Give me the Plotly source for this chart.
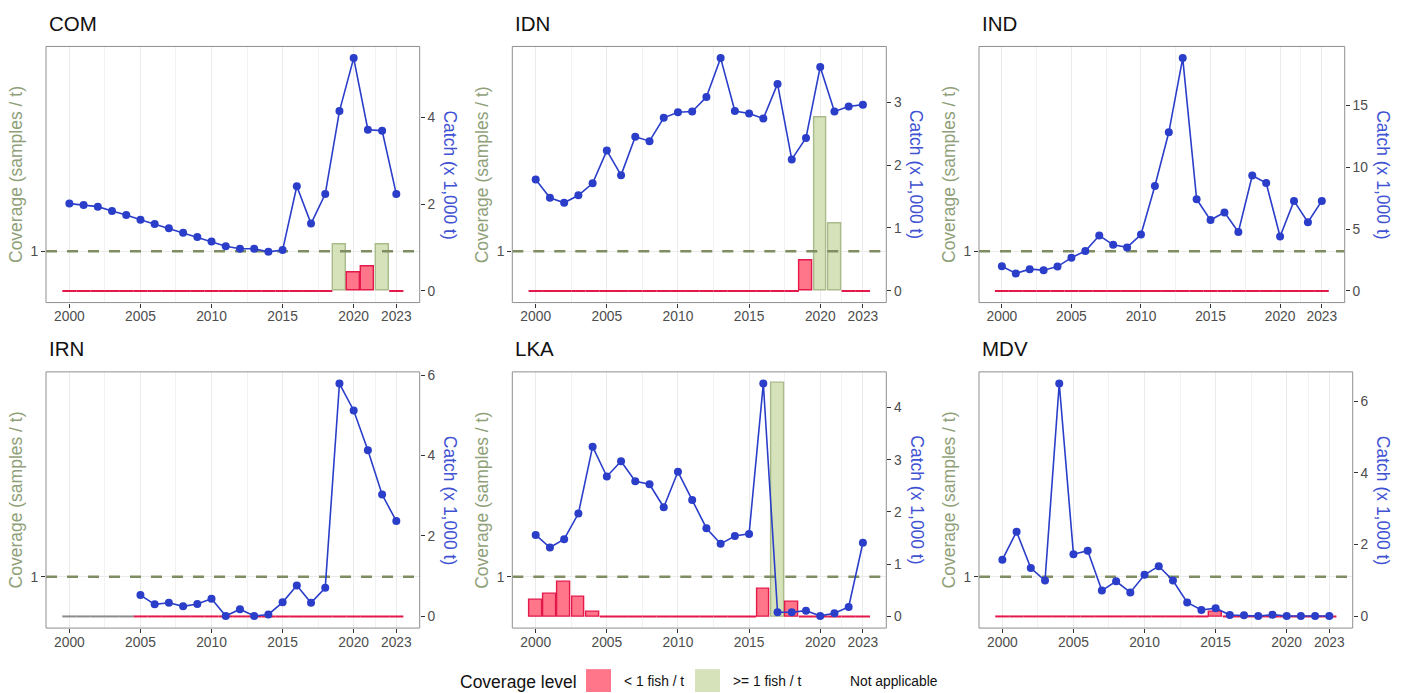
import plotly.graph_objects as go

# ---------------- data ----------------
years = [2000, 2001, 2002, 2003, 2004, 2005, 2006, 2007, 2008, 2009, 2010, 2011,
         2012, 2013, 2014, 2015, 2016, 2017, 2018, 2019, 2020, 2021, 2022, 2023]

fleets = ["COM", "IDN", "IND", "IRN", "LKA", "MDV"]

catch_COM = [2.01, 1.98, 1.94, 1.84, 1.75, 1.64, 1.54, 1.44, 1.34, 1.24, 1.14, 1.03,
             0.97, 0.97, 0.90, 0.94, 2.41, 1.55, 2.23, 4.14, 5.36, 3.71, 3.69, 2.23]
cover_COM = [0, 0, 0, 0, 0, 0, 0, 0, 0, 0, 0, 0,
             0, 0, 0, 0, 0, 0, 0, 1.17, 0.46, 0.61, 1.17, 0]

catch_IDN = [1.77, 1.48, 1.40, 1.52, 1.71, 2.23, 1.84, 2.45, 2.38, 2.75, 2.84, 2.85,
             3.08, 3.70, 2.86, 2.82, 2.74, 3.29, 2.09, 2.43, 3.56, 2.85, 2.93, 2.96]
cover_IDN = [0, 0, 0, 0, 0, 0, 0, 0, 0, 0, 0, 0,
             0, 0, 0, 0, 0, 0, 0, 0.78, 4.38, 1.70, 0, 0]

catch_IND = [2.00, 1.41, 1.76, 1.68, 1.97, 2.69, 3.23, 4.48, 3.73, 3.52, 4.56, 8.48,
             12.83, 18.83, 7.41, 5.73, 6.35, 4.77, 9.33, 8.72, 4.40, 7.28, 5.55, 7.28]
cover_IND = [0, 0, 0, 0, 0, 0, 0, 0, 0, 0, 0, 0,
             0, 0, 0, 0, 0, 0, 0, 0, 0, 0, 0, 0]

catch_IRN = [None, None, None, None, None, 0.53, 0.30, 0.34, 0.25, 0.31, 0.44, 0.01,
             0.18, 0.01, 0.05, 0.35, 0.77, 0.34, 0.71, 5.79, 5.12, 4.13, 3.03, 2.37]
cover_IRN = [None, None, None, None, None, 0, 0, 0, 0, 0, 0, 0,
             0, 0, 0, 0, 0, 0, 0, 0, 0, 0, 0, 0]

catch_LKA = [1.56, 1.32, 1.48, 1.97, 3.25, 2.68, 2.97, 2.59, 2.53, 2.09, 2.77, 2.23,
             1.69, 1.39, 1.54, 1.58, 4.46, 0.08, 0.08, 0.11, 0.01, 0.06, 0.18, 1.41]
cover_LKA = [0.42, 0.57, 0.88, 0.50, 0.11, 0, 0, 0, 0, 0, 0, 0,
             0, 0, 0, 0, 0.69, 5.88, 0.37, 0, 0, 0, 0, 0]

catch_MDV = [1.58, 2.36, 1.35, 1.00, 6.49, 1.73, 1.83, 0.72, 0.98, 0.67, 1.16, 1.40,
             1.00, 0.39, 0.18, 0.23, 0.04, 0.03, 0.01, 0.05, 0.01, 0.01, 0.01, 0.01]
cover_MDV = [0, 0, 0, 0, 0, 0, 0, 0, 0, 0, 0, 0,
             0, 0, 0, 0.11, 0, 0, 0, 0, 0, 0, 0, 0]

catch_ticks_COM = [0, 2, 4]
catch_ticks_IDN = [0, 1, 2, 3]
catch_ticks_IND = [0, 5, 10, 15]
catch_ticks_IRN = [0, 2, 4, 6]
catch_ticks_LKA = [0, 1, 2, 3, 4]
catch_ticks_MDV = [0, 2, 4, 6]

year_ticks = [2000, 2005, 2010, 2015, 2020, 2023]
year_minor = [2002.5, 2007.5, 2012.5, 2017.5, 2021.5]
coverage_threshold = 1

legend_title = "Coverage level"
legend_labels = ["< 1 fish / t", ">= 1 fish / t", "Not applicable"]

catches = [catch_COM, catch_IDN, catch_IND, catch_IRN, catch_LKA, catch_MDV]
covers = [cover_COM, cover_IDN, cover_IND, cover_IRN, cover_LKA, cover_MDV]
catch_ticks = [catch_ticks_COM, catch_ticks_IDN, catch_ticks_IND,
               catch_ticks_IRN, catch_ticks_LKA, catch_ticks_MDV]

# ---------------- style ----------------
W, H = 1410, 693
FONT = "Liberation Sans, Arial, sans-serif"
RED_FILL, RED_LINE = "#ff7589", "#e3194b"
GRN_FILL, GRN_LINE = "#d5e2ba", "#a9bb8a"
NA_LINE = "#8c8c8c"
BLUE = "#2a3ec9"
BLUE_TITLE = "#3f52d3"
OLIVE = "#7f8e62"
OLIVE_TITLE = "#8fa079"
GRID = "#ebebeb"
TICK_COL = "#4d4d4d"
BAR_W = 0.9
SCALE_MAX = 5.875   # catch maximum is drawn at this height (coverage units)

# panel boxes in pixels: left, top, right, bottom
boxes = [(46, 42.7, 419.7, 300.3), (512.3, 42.7, 886.3, 300.3), (979, 42.7, 1344.7, 300.3),
         (46, 370, 419.7, 627.7), (512.3, 370, 886.3, 627.7), (979, 370, 1352.7, 627.7)]

def px(x):
    return x / W

def py(y):
    return 1 - y / H

x_lo = years[0] - BAR_W / 2
x_hi = years[-1] + BAR_W / 2
x_pad = 0.05 * (x_hi - x_lo)
x_range = [x_lo - x_pad, x_hi + x_pad]
y_range = [-0.05 * SCALE_MAX, 1.05 * SCALE_MAX]

fig = go.Figure()
annotations = []
shapes = []

for i, code in enumerate(fleets):
    n = i + 1
    yl, yr = 2 * i + 1, 2 * i + 2
    xname = "x" if n == 1 else f"x{n}"
    ylname = "y" if yl == 1 else f"y{yl}"
    yrname = f"y{yr}"
    catch = catches[i]
    cover = covers[i]

    # bars with positive coverage
    bx, by, bf, bl = [], [], [], []
    for yv, c in zip(years, cover):
        if c is not None and c > 0:
            bx.append(yv)
            by.append(c)
            bf.append(GRN_FILL if c >= coverage_threshold else RED_FILL)
            bl.append(GRN_LINE if c >= coverage_threshold else RED_LINE)
    fig.add_trace(go.Bar(x=bx, y=by, width=BAR_W, xaxis=xname, yaxis=ylname,
                         marker=dict(color=bf, line=dict(color=bl, width=1.4)),
                         showlegend=False, hoverinfo="skip"))

    # zero-height bars (drawn as their outline)
    for col, test in ((RED_LINE, lambda c: c == 0), (NA_LINE, lambda c: c is None)):
        zx, zy = [], []
        for yv, c in zip(years, cover):
            if test(c):
                zx += [yv - 0.5, yv + 0.5, None]
                zy += [0, 0, None]
        if zx:
            fig.add_trace(go.Scatter(x=zx, y=zy, mode="lines", xaxis=xname, yaxis=ylname,
                                     line=dict(color=col, width=2), showlegend=False,
                                     hoverinfo="skip"))

    # threshold line
    fig.add_trace(go.Scatter(x=x_range, y=[coverage_threshold, coverage_threshold],
                             mode="lines", xaxis=xname, yaxis=ylname,
                             line=dict(color=OLIVE, width=2.6, dash="11px,10px"),
                             showlegend=False, hoverinfo="skip"))

    # catch line
    fig.add_trace(go.Scatter(x=years, y=catch, mode="lines+markers", xaxis=xname, yaxis=yrname,
                             line=dict(color=BLUE, width=1.6),
                             marker=dict(color=BLUE, size=8),
                             showlegend=False, connectgaps=False))

    cmax = max(v for v in catch if v is not None)
    r_range = [v * cmax / SCALE_MAX for v in y_range]

    L, T, R, B = boxes[i]
    xdom = [px(L), px(R)]
    ydom = [py(B), py(T)]
    xkey = "xaxis" if n == 1 else f"xaxis{n}"
    ylkey = "yaxis" if yl == 1 else f"yaxis{yl}"
    yrkey = f"yaxis{yr}"
    fig.layout[xkey] = dict(domain=xdom, anchor=ylname, range=x_range,
                            tickmode="array", tickvals=year_ticks,
                            ticks="outside", ticklen=4, tickcolor="#333", tickwidth=1,
                            ticklabelstandoff=-3,
                            tickfont=dict(size=13.8, color=TICK_COL, family=FONT),
                            showgrid=True, gridcolor=GRID, gridwidth=1,
                            minor=dict(tickmode="array", tickvals=year_minor, showgrid=True,
                                       gridcolor="#f2f2f2", gridwidth=1, ticks=""),
                            zeroline=False, showline=False, fixedrange=True)
    fig.layout[ylkey] = dict(domain=ydom, anchor=xname, range=y_range,
                             tickmode="array", tickvals=[coverage_threshold],
                             ticktext=[str(coverage_threshold)],
                             ticks="outside", ticklen=4, tickcolor="#333", tickwidth=1,
                             tickfont=dict(size=13.8, color=TICK_COL, family=FONT),
                             showgrid=True, gridcolor=GRID, gridwidth=1.2,
                             zeroline=False, showline=False, fixedrange=True)
    fig.layout[yrkey] = dict(overlaying=ylname, anchor=xname, side="right", range=r_range,
                             tickmode="array", tickvals=catch_ticks[i],
                             ticks="outside", ticklen=4, tickcolor="#333", tickwidth=1,
                             tickfont=dict(size=13.8, color=TICK_COL, family=FONT),
                             showgrid=False, zeroline=False, showline=False, fixedrange=True)

    # panel border
    shapes.append(dict(type="rect", xref=f"{xname} domain", yref=f"{ylname} domain",
                       x0=0, x1=1, y0=0, y1=1, line=dict(color="#8f8f8f", width=1),
                       fillcolor="rgba(0,0,0,0)", layer="above"))

    # panel title
    annotations.append(dict(text=code, x=px(L + 0.5), y=py(T - 23.5), xref="paper", yref="paper",
                            xanchor="left", yanchor="middle", showarrow=False,
                            font=dict(size=20.5, color="#111", family=FONT)))
    # axis titles
    mid = (T + B) / 2
    annotations.append(dict(text="Coverage (samples / t)", x=px(L - 30.5), y=py(mid),
                            xref="paper", yref="paper", xanchor="center", yanchor="middle",
                            textangle=-90, showarrow=False,
                            font=dict(size=17.5, color=OLIVE_TITLE, family=FONT)))
    off = 38.6 if max(catch_ticks[i]) >= 10 else 30.4
    annotations.append(dict(text="Catch (x 1,000 t)", x=px(R + off), y=py(mid),
                            xref="paper", yref="paper", xanchor="center", yanchor="middle",
                            textangle=90, showarrow=False,
                            font=dict(size=17.5, color=BLUE_TITLE, family=FONT)))

# legend
leg_y = 681.5
annotations.append(dict(text=legend_title, x=px(458), y=py(leg_y), xref="paper", yref="paper",
                        xanchor="left", yanchor="middle", showarrow=False,
                        font=dict(size=17.5, color="#111", family=FONT)))
shapes.append(dict(type="rect", xref="paper", yref="paper", x0=px(586), x1=px(611),
                   y0=py(692), y1=py(669), fillcolor=RED_FILL, line=dict(width=0)))
shapes.append(dict(type="rect", xref="paper", yref="paper", x0=px(695), x1=px(720),
                   y0=py(692), y1=py(669), fillcolor=GRN_FILL, line=dict(width=0)))
for lab, lx in zip(legend_labels, [622, 731, 848]):
    annotations.append(dict(text=lab, x=px(lx), y=py(leg_y), xref="paper", yref="paper",
                            xanchor="left", yanchor="middle", showarrow=False,
                            font=dict(size=13.8, color="#111", family=FONT)))

fig.update_layout(width=W, height=H, margin=dict(l=0, r=0, t=0, b=0),
                  paper_bgcolor="white", plot_bgcolor="white",
                  font=dict(family=FONT), showlegend=False,
                  annotations=annotations, shapes=shapes, bargap=0)

fig.write_html("out.html")
